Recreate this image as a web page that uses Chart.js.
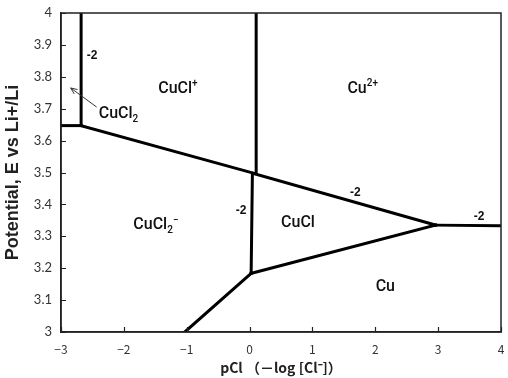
<!DOCTYPE html>
<html>
<head>
<meta charset="utf-8">
<script src="https://cdn.jsdelivr.net/npm/chart.js@4.4.1/dist/chart.umd.min.js"></script>
<style>
html,body{margin:0;padding:0;background:#fff;}
#wrap{width:508px;height:378px;position:relative;}
</style>
</head>
<body>
<div id="wrap"><canvas id="c" width="508" height="378"></canvas></div>
<script>
// ---- data (pCl, E) ----
const xTicks = [-3, -2, -1, 0, 1, 2, 3, 4];
const yTicks = [3, 3.1, 3.2, 3.3, 3.4, 3.5, 3.6, 3.7, 3.8, 3.9, 4];
const bCuCl2_CuClp   = [[-2.68, 4.0], [-2.68, 3.647]];
const bLeftEdge      = [[-3.0, 3.647], [-2.68, 3.647]];
const bCuClp_CuCl2m  = [[-2.68, 3.647], [0.08, 3.497]];
const bCuClp_Cu2p    = [[0.105, 4.0], [0.105, 3.497]];
const bCuCl2m_CuCl   = [[0.045, 3.497], [0.025, 3.184]];
const bCuClp_CuCl    = [[0.06, 3.497], [2.96, 3.335]];
const bCu2p_Cu       = [[2.96, 3.335], [4.0, 3.333]];
const bCuCl_Cu       = [[2.96, 3.335], [0.025, 3.184]];
const bCuCl2m_Cu     = [[0.025, 3.184], [-1.03, 3.0]];
const boundaries = [bCuCl2_CuClp, bLeftEdge, bCuClp_CuCl2m, bCuClp_Cu2p, bCuCl2m_CuCl, bCuClp_CuCl, bCu2p_Cu, bCuCl_Cu, bCuCl2m_Cu];

// region / slope labels: [parts, x, y]
const speciesLabels = [
  [[["CuCl", ""], ["+", "sup"]], -1.14, 3.762],
  [[["Cu", ""], ["2+", "sup"]], 1.80, 3.762],
  [[["CuCl", ""], ["2", "sub"]], -2.085, 3.683],
  [[["CuCl", ""], ["2", "sub"], ["\u2212", "sup"]], -1.49, 3.335],
  [[["CuCl", ""]], 0.77, 3.343],
  [[["Cu", ""]], 2.16, 3.142]
];
const slopeLabels = [
  ["-2", -2.507, 3.865],
  ["-2", -0.136, 3.380],
  ["-2", 1.682, 3.436],
  ["-2", 3.650, 3.361]
];
const arrowFrom = [-2.432, 3.705];
const arrowTo = [-2.846, 3.765];

const datasets = boundaries.map(seg => ({
  data: seg.map(p => ({x: p[0], y: p[1]})),
  showLine: true,
  borderColor: '#000',
  borderWidth: 3,
  pointRadius: 0,
  borderCapStyle: 'square',
  fill: false
}));

const decor = {
  id: 'decor',
  afterDraw(chart) {
    const ctx = chart.ctx;
    const xs = chart.scales.x, ys = chart.scales.y;
    const a = chart.chartArea;
    ctx.save();
    // frame
    ctx.strokeStyle = '#222';
    ctx.lineWidth = 1.5;
    ctx.strokeRect(a.left, a.top, a.right - a.left, a.bottom - a.top);
    // inner ticks
    ctx.beginPath();
    xTicks.forEach(v => { const px = Math.round(xs.getPixelForValue(v)) + 0.5; ctx.moveTo(px, a.bottom); ctx.lineTo(px, a.bottom - 5); });
    yTicks.forEach(v => { const py = Math.round(ys.getPixelForValue(v)) + 0.5; ctx.moveTo(a.left, py); ctx.lineTo(a.left + 5, py); });
    ctx.lineWidth = 1.2;
    ctx.stroke();
    // species labels
    ctx.fillStyle = '#111';
    ctx.textBaseline = 'middle';
    speciesLabels.forEach(([parts, x, y]) => {
      const big = '500 16px Roboto', small = '500 10px Roboto';
      let w = 0;
      parts.forEach(([t, k]) => { ctx.font = k ? small : big; w += ctx.measureText(t).width; });
      let px = xs.getPixelForValue(x) - w / 2;
      const py = ys.getPixelForValue(y);
      parts.forEach(([t, k]) => {
        ctx.font = k ? small : big;
        ctx.textAlign = 'left';
        let dy = 0;
        if (k === 'sup') dy = -5;
        if (k === 'sub') dy = 5;
        ctx.fillText(t, px, py + dy);
        px += ctx.measureText(t).width;
      });
    });
    // slope labels
    ctx.font = 'bold 12px "Liberation Sans"';
    ctx.textAlign = 'center';
    slopeLabels.forEach(([t, x, y]) => ctx.fillText(t, xs.getPixelForValue(x), ys.getPixelForValue(y)));
    // arrow
    const x1 = xs.getPixelForValue(arrowFrom[0]), y1 = ys.getPixelForValue(arrowFrom[1]);
    const x2 = xs.getPixelForValue(arrowTo[0]), y2 = ys.getPixelForValue(arrowTo[1]);
    ctx.strokeStyle = '#333';
    ctx.lineWidth = 1;
    ctx.beginPath(); ctx.moveTo(x1, y1); ctx.lineTo(x2, y2); ctx.stroke();
    const ang = Math.atan2(y2 - y1, x2 - x1);
    ctx.beginPath();
    ctx.moveTo(x2 - 7 * Math.cos(ang - 0.4), y2 - 7 * Math.sin(ang - 0.4));
    ctx.lineTo(x2, y2);
    ctx.lineTo(x2 - 7 * Math.cos(ang + 0.4), y2 - 7 * Math.sin(ang + 0.4));
    ctx.stroke();
    ctx.restore();
  }
};

new Chart(document.getElementById('c'), {
  type: 'scatter',
  data: { datasets },
  options: {
    responsive: false,
    animation: false,
    events: [],
    layout: { padding: { top: 13, right: 7, left: 0, bottom: 0 } },
    plugins: { legend: { display: false }, tooltip: { enabled: false } },
    scales: {
      x: {
        type: 'linear', min: xTicks[0], max: xTicks[xTicks.length - 1],
        afterBuildTicks: s => { s.ticks = xTicks.map(v => ({value: v})); },
        afterFit: s => { s.height = 46; s.paddingLeft = 0; s.paddingRight = 0; },
        grid: { display: false, drawTicks: false },
        border: { display: true, color: '#222', width: 1.5 },
        ticks: {
          padding: 10, color: '#333', maxRotation: 0, autoSkip: false,
          font: { family: '"Noto Sans CJK JP"', size: 12 },
          callback: v => String(v).replace('-', '\u2212')
        },
        title: {
          display: true, text: 'pCl \uFF08\uFF0Dlog [Cl\u207B]\uFF09', color: '#222',
          font: { family: '"Noto Sans CJK JP"', size: 14, weight: 'bold' },
          padding: { top: 0, bottom: 2 }
        }
      },
      y: {
        type: 'linear', min: yTicks[0], max: yTicks[yTicks.length - 1],
        afterBuildTicks: s => { s.ticks = yTicks.map(v => ({value: v})); },
        afterFit: s => { s.width = 61; s.paddingTop = 0; s.paddingBottom = 0; },
        grid: { display: false, drawTicks: false },
        border: { display: true, color: '#222', width: 1.5 },
        ticks: {
          padding: 9, color: '#333', autoSkip: false,
          font: { family: 'Lato', size: 13 },
          callback: v => String(+v.toFixed(1))
        },
        title: {
          display: true, text: 'Potential, E vs Li+/Li', color: '#222',
          font: { family: '"Liberation Sans"', size: 18, weight: 'bold' },
          padding: { top: 2, bottom: 0 }
        }
      }
    }
  },
  plugins: [decor]
});
</script>
</body>
</html>
